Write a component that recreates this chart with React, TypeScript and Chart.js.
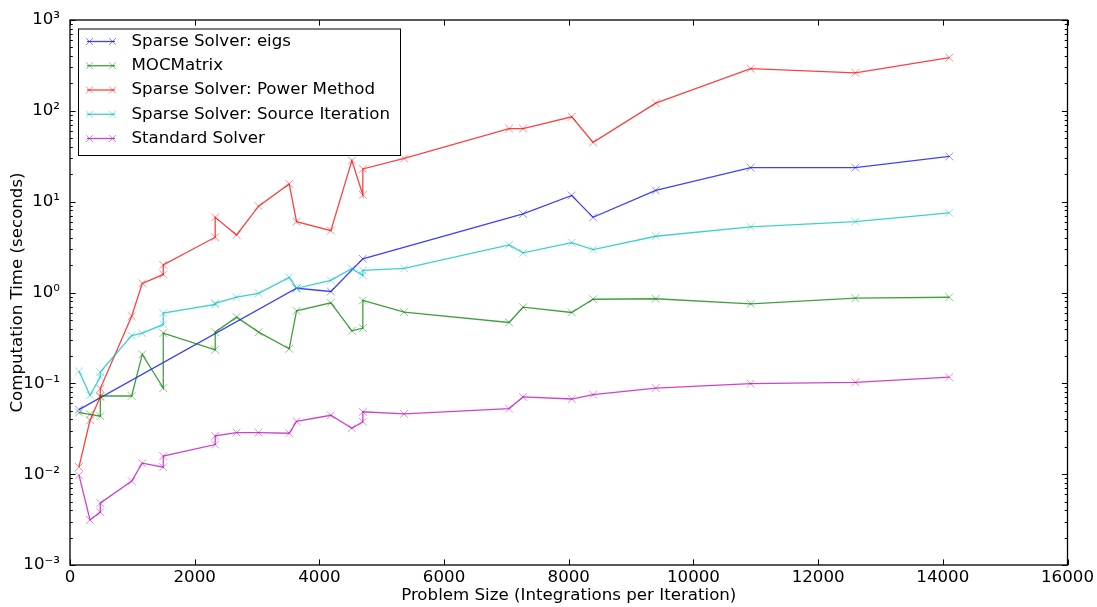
import React, { useEffect, useRef } from "react";
import { Chart, registerables } from "chart.js";

Chart.register(...registerables);

// ---- data ----
const problemSizes = [
  144, 321, 486, 486, 989, 1159, 1496, 1496, 2329, 2329, 2672, 3025, 3516, 3634,
  4184, 4521, 4697, 4697, 5360, 7043, 7267, 8048, 8390, 9395, 10918, 12597, 14104,
];

const eigsTimes = [
  0.0514, null, null, null, null, null, null, null, null, null, null, null, null, 1.114,
  1.026, null, null, 2.35, null, null, 7.33, 11.7, 6.72, 13.3, 23.7, 23.7, 31.5,
];

const mocMatrixTimes = [
  0.0477, 0.0456, 0.0434, 0.0725, 0.0725, 0.208, 0.0887, 0.357, 0.234, 0.366, 0.536, 0.366, 0.24, 0.629,
  0.771, 0.379, 0.406, 0.817, 0.608, 0.468, 0.689, 0.603, 0.843, 0.853, 0.751, 0.866, 0.887,
];

const powerMethodTimes = [
  0.012, 0.0392, 0.0708, 0.0875, 0.549, 1.26, 1.58, 2.01, 4.06, 6.72, 4.3, 8.93, 15.7, 6.03,
  4.8, 28.3, 11.9, 22.9, 29.9, 63.8, 63.8, 85.9, 44.9, 121.6, 291.7, 261.9, 385,
];

const sourceIterationTimes = [
  0.1355, 0.0738, 0.117, 0.133, 0.336, 0.357, 0.445, 0.593, 0.74, 0.76, 0.887, 0.98, 1.47, 1.11,
  1.36, 1.84, 1.54, 1.75, 1.84, 3.34, 2.73, 3.54, 2.97, 4.16, 5.27, 6.03, 7.52,
];

const standardSolverTimes = [
  0.00975, 0.00313, 0.00382, 0.0048, 0.00838, 0.0132, 0.01194, 0.0158, 0.0212, 0.0264, 0.0287, 0.0287, 0.0282, 0.0382,
  0.0445, 0.032, 0.0378, 0.0486, 0.046, 0.0527, 0.0708, 0.0672, 0.0751, 0.0887, 0.0993, 0.1026, 0.117,
];

const seriesLabels = [
  "Sparse Solver: eigs",
  "MOCMatrix",
  "Sparse Solver: Power Method",
  "Sparse Solver: Source Iteration",
  "Standard Solver",
];
const seriesValues = [eigsTimes, mocMatrixTimes, powerMethodTimes, sourceIterationTimes, standardSolverTimes];
const seriesRGB = ["0,0,255", "0,128,0", "255,0,0", "0,191,191", "191,0,191"];

const xTickValues = [0, 2000, 4000, 6000, 8000, 10000, 12000, 14000, 16000];
const yDecades = [-3, -2, -1, 0, 1, 2, 3];
const yTickLabels = ["10⁻³", "10⁻²", "10⁻¹", "10⁰", "10¹", "10²", "10³"];

const xTitle = "Problem Size (Integrations per Iteration)";
const yTitle = "Computation Time (seconds)";

// ---- styling ----
const FONT_FAMILY = "'DejaVu Sans', 'Liberation Sans', sans-serif";
const FONT_SIZE = 16.67;
const MAJOR_TICK = 5.6;
const MINOR_TICK = 2.8;

const framePlugin = {
  id: "frameTicks",
  afterDatasetsDraw(chart: any) {
    const { ctx, chartArea: a, scales } = chart;
    const xs = scales.x;
    const ys = scales.y;
    ctx.save();
    ctx.strokeStyle = "#000";
    ctx.lineWidth = 1;
    ctx.beginPath();
    for (const v of xTickValues) {
      const px = Math.round(xs.getPixelForValue(v)) + 0.5;
      ctx.moveTo(px, a.bottom);
      ctx.lineTo(px, a.bottom - MAJOR_TICK);
      ctx.moveTo(px, a.top);
      ctx.lineTo(px, a.top + MAJOR_TICK);
    }
    for (const e of yDecades) {
      const py = Math.round(ys.getPixelForValue(Math.pow(10, e))) + 0.5;
      ctx.moveTo(a.left, py);
      ctx.lineTo(a.left + MAJOR_TICK, py);
      ctx.moveTo(a.right, py);
      ctx.lineTo(a.right - MAJOR_TICK, py);
      if (e < 3) {
        for (let m = 2; m <= 9; m++) {
          const pm = Math.round(ys.getPixelForValue(m * Math.pow(10, e))) + 0.5;
          ctx.moveTo(a.left, pm);
          ctx.lineTo(a.left + MINOR_TICK, pm);
          ctx.moveTo(a.right, pm);
          ctx.lineTo(a.right - MINOR_TICK, pm);
        }
      }
    }
    ctx.stroke();
    ctx.lineWidth = 1.3;
    ctx.strokeRect(a.left, a.top, a.right - a.left, a.bottom - a.top);
    ctx.restore();
  },
};

const legendPlugin = {
  id: "boxLegend",
  afterDraw(chart: any) {
    const { ctx } = chart;
    const boxX = 78;
    const boxY = 28.5;
    const boxW = 322;
    const boxH = 126.5;
    ctx.save();
    ctx.fillStyle = "#fff";
    ctx.fillRect(boxX, boxY, boxW, boxH);
    ctx.strokeStyle = "#000";
    ctx.lineWidth = 1;
    ctx.strokeRect(boxX + 0.5, boxY + 0.5, boxW, boxH);
    ctx.font = `${FONT_SIZE}px ${FONT_FAMILY}`;
    ctx.textBaseline = "middle";
    ctx.textAlign = "left";
    chart.data.datasets.forEach((ds: any, i: number) => {
      const cy = 41.5 + i * 24.25;
      ctx.strokeStyle = ds.borderColor;
      ctx.lineWidth = ds.borderWidth;
      ctx.beginPath();
      ctx.moveTo(87, cy);
      ctx.lineTo(115, cy);
      ctx.stroke();
      ctx.strokeStyle = ds.pointBorderColor;
      ctx.lineWidth = ds.pointBorderWidth;
      for (const mx of [89.5, 112.5]) {
        const r = 3.5;
        ctx.beginPath();
        ctx.moveTo(mx - r, cy - r);
        ctx.lineTo(mx + r, cy + r);
        ctx.moveTo(mx - r, cy + r);
        ctx.lineTo(mx + r, cy - r);
        ctx.stroke();
      }
      ctx.fillStyle = "#000";
      ctx.fillText(ds.label, 131.5, cy);
    });
    ctx.restore();
  },
};

export default function App() {
  const canvasRef = useRef<HTMLCanvasElement | null>(null);

  useEffect(() => {
    document.body.style.margin = "0";
    const canvas = canvasRef.current;
    if (!canvas) return;

    const datasets = seriesLabels.map((label, i) => ({
      label,
      data: problemSizes
        .map((x, j) => ({ x, y: seriesValues[i][j] }))
        .filter((p) => p.y !== null && p.y !== undefined),
      borderColor: `rgba(${seriesRGB[i]},0.75)`,
      backgroundColor: `rgba(${seriesRGB[i]},0.75)`,
      borderWidth: 1.3,
      pointStyle: "crossRot",
      pointRadius: 5.5,
      pointBorderWidth: 0.9,
      pointBorderColor: `rgba(${seriesRGB[i]},0.5)`,
      pointBackgroundColor: "transparent",
      tension: 0,
      fill: false,
      order: seriesLabels.length - i,
    }));

    const chart = new Chart(canvas, {
      type: "line",
      data: { datasets } as any,
      options: {
        animation: false,
        responsive: false,
        events: [],
        layout: { padding: { top: 19, right: 29, left: 0, bottom: 0 } },
        plugins: {
          legend: { display: false },
          tooltip: { enabled: false },
        },
        scales: {
          x: {
            type: "linear",
            min: 0,
            max: 16000,
            afterBuildTicks: (scale: any) => {
              scale.ticks = xTickValues.map((v) => ({ value: v }));
            },
            afterFit: (scale: any) => {
              scale.height = 42;
            },
            ticks: {
              callback: (v: any) => String(v),
              color: "#000",
              font: { family: FONT_FAMILY, size: FONT_SIZE },
              padding: 3,
              maxRotation: 0,
              autoSkip: false,
            },
            grid: { display: false, drawTicks: false },
            border: { display: false },
            title: {
              display: true,
              text: xTitle,
              color: "#000",
              font: { family: FONT_FAMILY, size: FONT_SIZE },
              padding: { top: 0, bottom: 1 },
            },
          },
          y: {
            type: "logarithmic",
            min: 1e-3,
            max: 1e3,
            afterBuildTicks: (scale: any) => {
              scale.ticks = yDecades.map((e) => ({ value: Math.pow(10, e) }));
            },
            afterFit: (scale: any) => {
              scale.width = 70;
            },
            ticks: {
              callback: (v: any) => {
                const idx = yDecades.indexOf(Math.round(Math.log10(Number(v))));
                return idx >= 0 ? yTickLabels[idx] : "";
              },
              color: "#000",
              font: { family: FONT_FAMILY, size: FONT_SIZE },
              padding: 10,
              autoSkip: false,
            },
            grid: { display: false, drawTicks: false },
            border: { display: false },
            title: {
              display: true,
              text: yTitle,
              color: "#000",
              font: { family: FONT_FAMILY, size: FONT_SIZE },
              padding: { top: 8, bottom: 0 },
            },
          },
        },
      } as any,
      plugins: [framePlugin, legendPlugin],
    });

    return () => chart.destroy();
  }, []);

  return (
    <div style={{ position: "relative", width: 1097, height: 607 }}>
      <canvas ref={canvasRef} width={1097} height={607} style={{ display: "block" }} />
    </div>
  );
}
